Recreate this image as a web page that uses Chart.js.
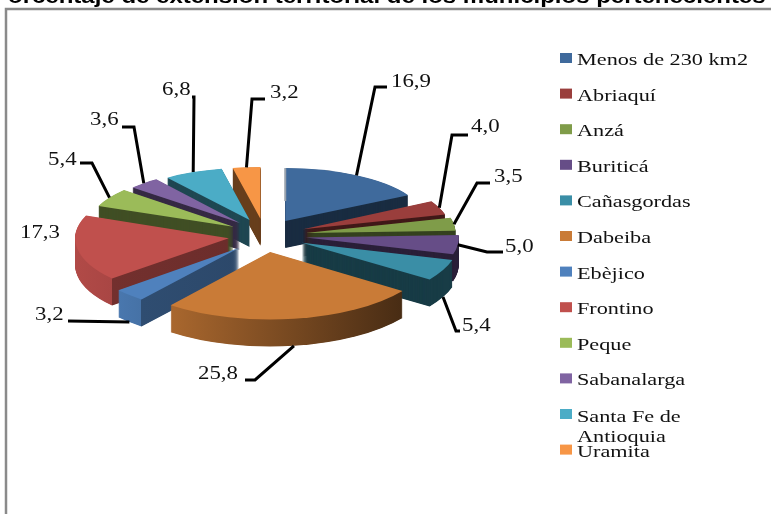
<!DOCTYPE html>
<html>
<head>
<meta charset="utf-8">
<title>Extensión territorial</title>
<script src="https://cdn.jsdelivr.net/npm/chart.js@4/dist/chart.umd.min.js"></script>
<style>
	html, body { margin: 0; padding: 0; background: #fff; overflow: hidden; }
	canvas { display: block; }
</style>
</head>
<body>
<canvas id="pie3d" width="771" height="514"></canvas>
<script>
const titleText = 'Porcentaje de extensión territorial de los municipios pertenecientes';
const categories = ['Menos de 230 km2', 'Abriaquí', 'Anzá', 'Buriticá', 'Cañasgordas', 'Dabeiba', 'Ebèjico', 'Frontino', 'Peque', 'Sabanalarga', 'Santa Fe de Antioquia', 'Uramita'];
const percentages = [16.9, 4.0, 3.5, 5.0, 5.4, 25.8, 3.2, 17.3, 5.4, 3.6, 6.8, 3.2];
const colors = ['#3f6a9c', '#9a3e3c', '#7f9c49', '#664d87', '#3a8ea6', '#c97b37', '#4f81bd', '#c0504d', '#9bbb59', '#8064a2', '#4bacc6', '#f79646'];

// label layout: elbow of the leader line, its end, then the text anchor (left, middle)
const leaderElbows = [[375, 87], [452, 135], [477, 183], [487, 252], [456, 331], [255, 380], [68, 321], null, [92, 163], [134, 127], [194, 97], [252, 99]];
const leaderEnds = [[387, 87], [468, 135], [490, 183], [503, 252], [460, 331], [245, 380], [68, 321], null, [80, 163], [122, 127], [192, 97], [265, 99]];
const labelSpots = [[391, 82], [471, 127], [494, 177], [505, 247], [462, 326], [198, 374], [35, 315], [20, 233], [48, 160], [90, 120], [162, 90], [270, 93]];

const pieX = 264;
const pieY = 235.5;
const flatten = 0.4;
const explode = 42;
const leftExplode = 0.85;
const depth = 27;
const depthStep = 0.5;
const textStretch = 1.27;
const titleStretch = 1.2;

function shade(hex, f) {
	const n = parseInt(hex.slice(1), 16);
	const r = Math.round((n >> 16) * f);
	const g = Math.round(((n >> 8) & 255) * f);
	const b = Math.round((n & 255) * f);
	return 'rgb(' + r + ',' + g + ',' + b + ')';
}

function midAngle(arc) {
	return (arc.startAngle + arc.endAngle) / 2;
}

// fake perspective: slices at the back shrink, slices at the front grow
function sliceView(arc) {
	const a = midAngle(arc);
	const sin = Math.sin(a);
	const cos = Math.cos(a);
	return {
		moveX: explode * cos * (cos < 0 ? leftExplode : 1),
		moveY: explode * sin,
		sx: 1 + (sin < 0 ? 0.085 : 0.065) * sin,
		sy: 1 + (sin < 0 ? 0.15 : 0.11) * sin,
		cos: cos,
		sin: sin
	};
}

function placeSlice(ctx, arc, drop) {
	const v = sliceView(arc);
	ctx.translate(0, drop);
	ctx.translate(arc.x, arc.y);
	ctx.scale(1, flatten);
	ctx.translate(v.moveX, v.moveY);
	ctx.scale(v.sx, v.sy);
	ctx.translate(-arc.x, -arc.y);
}

function wallFill(ctx, arc, color) {
	const v = sliceView(arc);
	// only the slices facing the viewer on the left catch the light
	if (v.sin < 0.1 || v.cos > 0.2) {
		return shade(color, 0.42);
	}
	let minX = 0;
	let maxX = 0;
	for (let i = 0; i <= 8; i++) {
		const t = arc.startAngle + (arc.endAngle - arc.startAngle) * i / 8;
		minX = Math.min(minX, Math.cos(t) * arc.outerRadius);
		maxX = Math.max(maxX, Math.cos(t) * arc.outerRadius);
	}
	const g = ctx.createLinearGradient(arc.x + minX, 0, arc.x + maxX, 0);
	if (v.sin > 0.9) {
		g.addColorStop(0, shade(color, 0.84));
		g.addColorStop(1, shade(color, 0.36));
		return g;
	}
	// outer rim is lit, the straight cut wall next to it is not
	const corner = (Math.cos(arc.startAngle) * arc.outerRadius - minX) / (maxX - minX);
	g.addColorStop(0, shade(color, 0.92));
	g.addColorStop(corner, shade(color, 0.88));
	g.addColorStop(corner, shade(color, 0.6));
	g.addColorStop(1, shade(color, 0.56));
	return g;
}

function drawFace(ctx, arc, fill, drop) {
	const keep = arc.options;
	ctx.save();
	placeSlice(ctx, arc, drop);
	arc.options = { backgroundColor: fill, borderColor: fill, borderWidth: 0, borderAlign: 'center', borderRadius: 0, offset: 0, spacing: 0, circular: true };
	arc.draw(ctx);
	arc.options = keep;
	ctx.restore();
}

function stretchedText(ctx, text, x, y, stretch) {
	ctx.save();
	ctx.translate(x, y);
	ctx.scale(stretch, 1);
	ctx.fillText(text, 0, 0);
	ctx.restore();
}

const pie3d = {
	id: 'pie3d',
	beforeDraw(chart) {
		const ctx = chart.ctx;
		ctx.save();
		ctx.strokeStyle = '#8a8a8a';
		ctx.lineWidth = 2.5;
		ctx.beginPath();
		ctx.moveTo(6, 514);
		ctx.lineTo(6, 9);
		ctx.lineTo(771, 9);
		ctx.stroke();
		ctx.font = 'bold 20px "Liberation Sans"';
		ctx.fillStyle = '#000';
		ctx.textBaseline = 'alphabetic';
		stretchedText(ctx, titleText, -8, 3, titleStretch);
		ctx.restore();
	},
	beforeDatasetDraw(chart) {
		const ctx = chart.ctx;
		const arcs = chart.getDatasetMeta(0).data;
		const order = arcs.map((arc, i) => i).sort((p, q) => Math.sin(midAngle(arcs[p])) - Math.sin(midAngle(arcs[q])));
		order.forEach(function(i) {
			const wall = wallFill(ctx, arcs[i], colors[i]);
			for (let d = depth; d > 0; d -= depthStep) {
				drawFace(ctx, arcs[i], wall, d);
			}
			drawFace(ctx, arcs[i], colors[i], 0);
		});
		return false;
	},
	afterDatasetsDraw(chart) {
		const ctx = chart.ctx;
		const arcs = chart.getDatasetMeta(0).data;
		ctx.save();
		// thin grey edge left of the first slice
		const first = sliceView(arcs[0]);
		const firstX = arcs[0].x + first.moveX;
		const firstTop = arcs[0].y + (first.moveY - arcs[0].outerRadius * first.sy) * flatten;
		ctx.fillStyle = '#9aa3ad';
		ctx.fillRect(firstX - 1, firstTop, 2, depth + 6);

		ctx.strokeStyle = '#000';
		ctx.lineWidth = 3;
		ctx.lineJoin = 'miter';
		ctx.fillStyle = '#111';
		ctx.font = '18px "Liberation Serif"';
		ctx.textBaseline = 'middle';
		arcs.forEach(function(arc, i) {
			if (leaderElbows[i]) {
				const v = sliceView(arc);
				const rimX = arc.x + v.moveX + arc.outerRadius * v.sx * v.cos;
				const rimY = arc.y + (v.moveY + arc.outerRadius * v.sy * v.sin) * flatten + (v.sin > 0.3 ? depth : 0);
				ctx.beginPath();
				ctx.moveTo(rimX, rimY);
				ctx.lineTo(leaderElbows[i][0], leaderElbows[i][1]);
				ctx.lineTo(leaderEnds[i][0], leaderEnds[i][1]);
				ctx.stroke();
			}
			stretchedText(ctx, percentages[i].toFixed(1).replace('.', ','), labelSpots[i][0], labelSpots[i][1], textStretch);
		});
		// legend
		ctx.font = '17.5px "Liberation Serif"';
		ctx.textBaseline = 'alphabetic';
		categories.forEach(function(name, i) {
			const rowY = 53 + i * 35.6;
			ctx.fillStyle = colors[i];
			ctx.fillRect(560, rowY, 12, 10);
			ctx.fillStyle = '#111';
			if (name === 'Santa Fe de Antioquia') {
				stretchedText(ctx, 'Santa Fe de', 577, rowY + 13, textStretch);
				stretchedText(ctx, 'Antioquia', 577, rowY + 33, textStretch);
			} else {
				stretchedText(ctx, name, 577, rowY + 12, textStretch);
			}
		});
		ctx.restore();
	}
};

const chart = new Chart(document.getElementById('pie3d'), {
	type: 'pie',
	data: {
		labels: categories,
		datasets: [
			{
				data: percentages,
				backgroundColor: colors,
				borderWidth: 0
			}
		]
	},
	options: {
		responsive: false,
		animation: false,
		radius: 152,
		layout: {
			padding: { left: 0, top: 0, right: 771 - 2 * pieX, bottom: 514 - 2 * pieY }
		},
		plugins: {
			legend: { display: false },
			title: { display: false },
			tooltip: { enabled: false }
		}
	},
	plugins: [pie3d]
});
</script>
</body>
</html>
